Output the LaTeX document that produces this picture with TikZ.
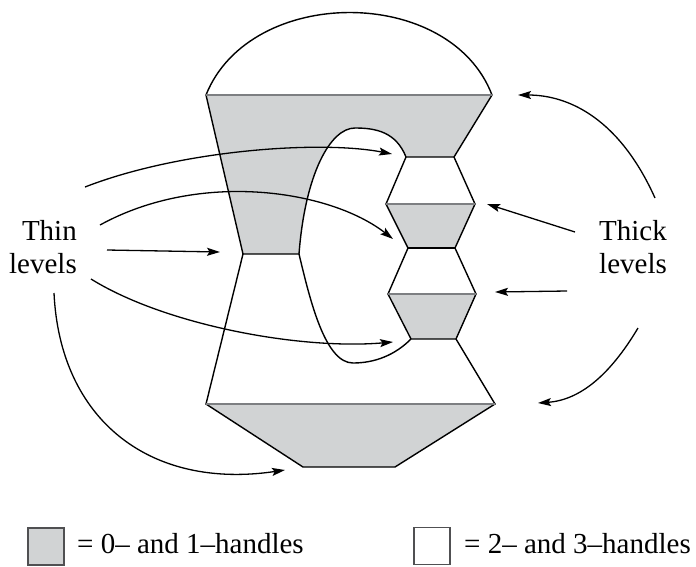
\documentclass[tikz,border=0pt]{standalone}
\usepackage{fontspec}
\setmainfont{Liberation Serif}
\usetikzlibrary{arrows.meta}
\definecolor{gfill}{RGB}{209,211,212}
\definecolor{gline}{RGB}{125,127,130}
\definecolor{bxline}{RGB}{80,80,82}
\tikzset{
  edge/.style={line width=1.4pt, line join=miter, black},
  lvl/.style={line width=1.4pt, gline},
  arr/.style={line width=1.3pt, -{Stealth[length=13pt,width=8pt,inset=2.5pt]}},
  lab/.style={font=\fontsize{29}{33}\selectfont, inner sep=0pt},
  legbox/.style={draw=bxline, line width=1.2pt, minimum width=36pt, minimum height=37pt, inner sep=0pt}
}
\begin{document}
\begin{tikzpicture}[x=1pt,y=-1pt]
\useasboundingbox (0,0) rectangle (696,566);
% key points
\coordinate (A) at (206,95);
\coordinate (B) at (492,95);
\coordinate (C) at (454,157);
\coordinate (D) at (406,157);
\coordinate (E) at (386,204);
\coordinate (F) at (475,204);
\coordinate (G) at (408,248);
\coordinate (H) at (455,248);
\coordinate (I) at (388,294);
\coordinate (J) at (476,294);
\coordinate (K) at (411,339);
\coordinate (L) at (456,339);
\coordinate (M) at (243,254);
\coordinate (N) at (299,254);
\coordinate (P) at (206,404);
\coordinate (Q) at (495,404);
\coordinate (R) at (303,467);
\coordinate (S) at (395,467);
% fills
\fill[gfill] (A) -- (B) -- (C) -- (D) .. controls (396,132) and (376,128) .. (355,128)
  .. controls (330,128) and (305,175) .. (N) -- (M) -- cycle;
\fill[gfill] (E) -- (F) -- (H) -- (G) -- cycle;
\fill[gfill] (I) -- (J) -- (L) -- (K) -- cycle;
\fill[gfill] (P) -- (Q) -- (S) -- (R) -- cycle;
% black outlines
\draw[edge] (A) .. controls (250,-15) and (450,-15) .. (B);
\draw[edge] (A) -- (M) -- (N);
\draw[edge] (N) .. controls (305,175) and (330,128) .. (355,128)
  .. controls (376,128) and (396,132) .. (D) -- (C) -- (B);
\draw[edge] (D) -- (E) -- (G) -- (I) -- (K) -- (L) -- (J) -- (H) -- (F) -- (C);
\draw[edge] (G) -- (H);
\draw[edge] (M) -- (P) -- (R) -- (S) -- (Q) -- (L);
\draw[edge] (N) .. controls (310,300) and (325,363) .. (353,363)
  .. controls (375,363) and (395,355) .. (K);
% thick-level lines
\draw[lvl] (A) -- (B);
\draw[lvl] (E) -- (F);
\draw[lvl] (I) -- (J);
\draw[lvl] (P) -- (Q);
% labels
\node[lab, anchor=base east] (thin1) at (77,240) {Thin};
\node[lab, anchor=base east] (thin2) at (77,273) {levels};
\node[lab, anchor=base west] (thick1) at (599,240) {Thick};
\node[lab, anchor=base west] (thick2) at (599,273) {levels};
% arrow end points
\coordinate (l1s) at (85,187);   \coordinate (l1e) at (392,154);
\coordinate (l2s) at (100,225);  \coordinate (l2e) at (393,239);
\coordinate (l3s) at (107,250);  \coordinate (l3e) at (220,252);
\coordinate (l4s) at (91,279);   \coordinate (l4e) at (393,342);
\coordinate (l5s) at (54,293);   \coordinate (l5e) at (285,470);
\coordinate (r1s) at (655,198);  \coordinate (r1e) at (518,95);
\coordinate (r2s) at (575,232);  \coordinate (r2e) at (487,204);
\coordinate (r3s) at (567,291);  \coordinate (r3e) at (495,292);
\coordinate (r4s) at (638,328);  \coordinate (r4e) at (538,403);
% arrows
\draw[arr] (l1s) .. controls (180,150) and (320,140) .. (l1e);
\draw[arr] (l2s) .. controls (200,170) and (330,190) .. (l2e);
\draw[arr] (l3s) -- (l3e);
\draw[arr] (l4s) .. controls (165,325) and (300,350) .. (l4e);
\draw[arr] (l5s) .. controls (60,420) and (150,490) .. (l5e);
\draw[arr] (r1s) .. controls (620,120) and (570,95) .. (r1e);
\draw[arr] (r2s) -- (r2e);
\draw[arr] (r3s) -- (r3e);
\draw[arr] (r4s) .. controls (610,375) and (580,400) .. (r4e);
% legend
\node[legbox, fill=gfill] (key1) at (46,546.5) {};
\node[lab, anchor=base west] (keytext1) at (77,553) {= 0– and 1–handles};
\node[legbox, fill=white] (key2) at (432,546) {};
\node[lab, anchor=base west] (keytext2) at (464,553) {= 2– and 3–handles};
\end{tikzpicture}
\end{document}
